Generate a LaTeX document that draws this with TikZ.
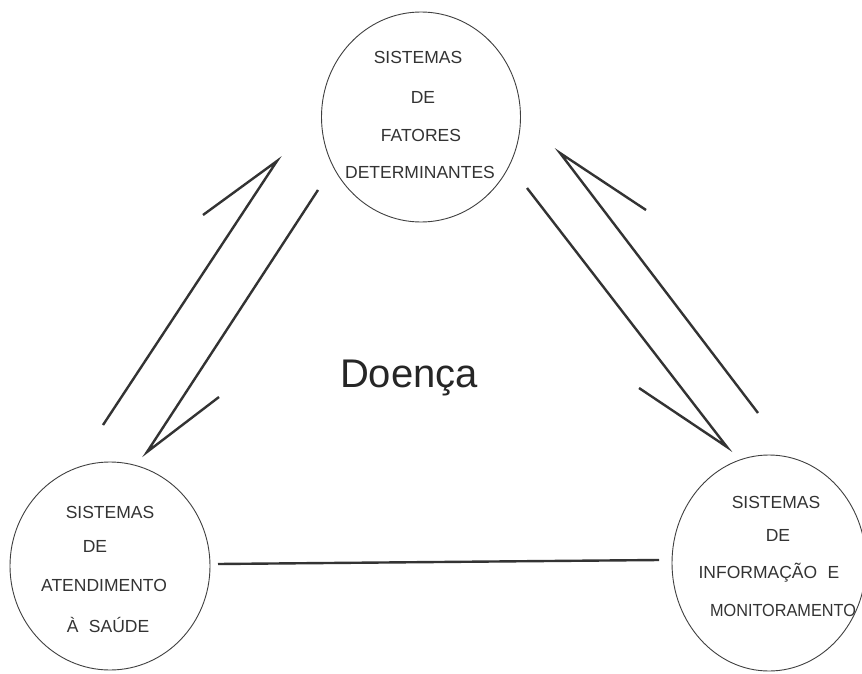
\documentclass[tikz,border=0pt]{standalone}
\usepackage{fontspec}
\setmainfont{Liberation Sans}
\usetikzlibrary{shapes.geometric}
\begin{document}
\begin{tikzpicture}[x=1pt,y=-1pt,
  circ/.style={draw=black!75, line width=0.9pt, ellipse, inner sep=0pt},
  lbl/.style={text=black!80, font=\fontsize{17.5}{18}\selectfont, inner sep=0pt, anchor=center},
  link/.style={draw=black!80, line width=2.4pt, line join=miter, line cap=butt}]
\useasboundingbox (0,0) rectangle (862,674);
\fill[white] (0,0) rectangle (862,674);
% circles
\node[circ, minimum width=199pt, minimum height=210pt] (top) at (421,117) {};
\node[circ, minimum width=200pt, minimum height=208pt] (left) at (110,566) {};
\node[circ, minimum width=194pt, minimum height=216pt] (right) at (769,563) {};
% texts top
\node[lbl] (t1) at (418,57) {SISTEMAS};
\node[lbl] (t2) at (423,97) {DE};
\node[lbl] (t3) at (421,135) {FATORES};
\node[lbl] (t4) at (420,172) {DETERMINANTES};
% texts left
\node[lbl] (l1) at (110,512) {SISTEMAS};
\node[lbl] (l2) at (95,546) {DE};
\node[lbl] (l3) at (104,585) {ATENDIMENTO};
\node[lbl] (l4) at (108,625) {À\hspace{0.6em}SAÚDE};
% texts right
\node[lbl] (r1) at (776,502) {SISTEMAS};
\node[lbl] (r2) at (778,535) {DE};
\node[lbl] (r3) at (769,573) {INFORMAÇÃO\hspace{0.6em}E};
\node[lbl, xscale=0.93] (r4) at (783,610) {MONITORAMENTO};
% centre
\node[text=black!85, font=\fontsize{40}{40}\selectfont, inner sep=0pt] (d) at (409,378) {Doença};
% connector coordinates
\coordinate (a1) at (103,425);
\coordinate (a2) at (277,161);
\coordinate (a3) at (203,215);
\coordinate (b1) at (318,190);
\coordinate (b2) at (147,452);
\coordinate (b3) at (219,397);
\coordinate (c1) at (758,413);
\coordinate (c2) at (560,153);
\coordinate (c3) at (646,210);
\coordinate (e1) at (527,188);
\coordinate (e2) at (727,447);
\coordinate (e3) at (639,388);
\coordinate (h1) at (218,564);
\coordinate (h2) at (659,560);
% connectors
\draw[link] (a1) -- (a2) -- (a3);
\draw[link] (b1) -- (b2) -- (b3);
\draw[link] (c1) -- (c2) -- (c3);
\draw[link] (e1) -- (e2) -- (e3);
\draw[link] (h1) -- (h2);
\end{tikzpicture}
\end{document}
